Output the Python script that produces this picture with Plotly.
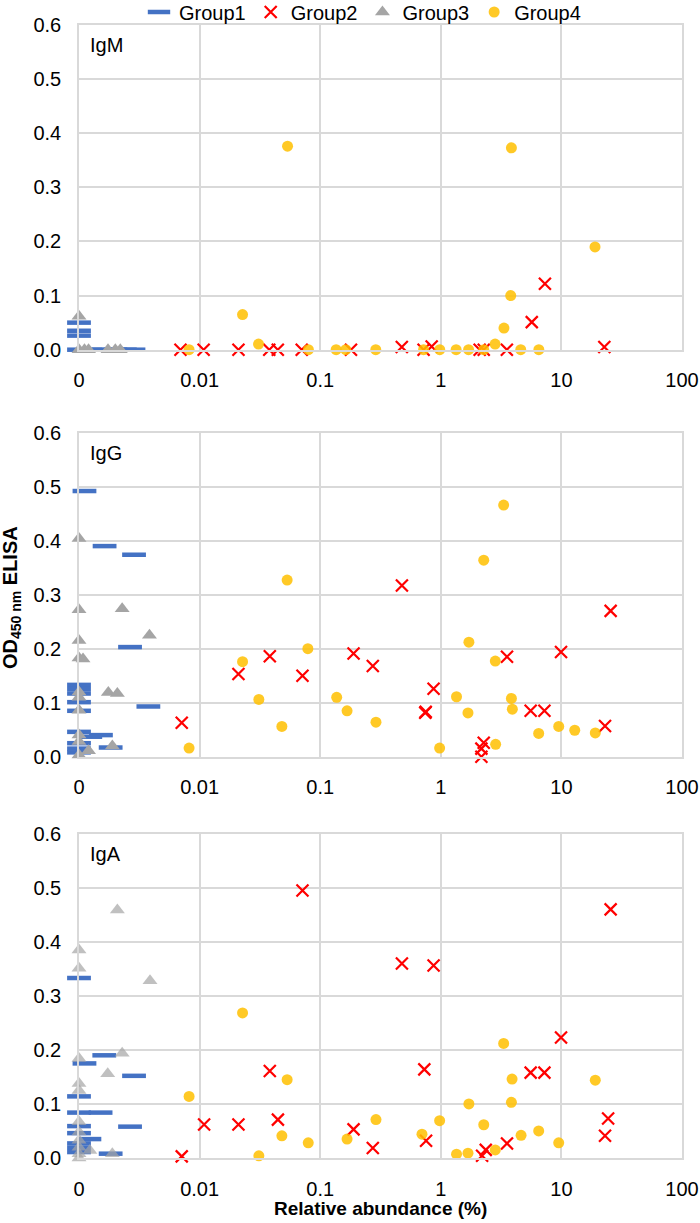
import plotly.graph_objects as go

# ---------------- data ----------------
panels = ["IgM", "IgG", "IgA"]

# Group1 (blue dash)
g1_igm_x = [0.001, 0.001, 0.001, 0.001, 0.00125, 0.0016, 0.002, 0.0024, 0.00283]
g1_igm_y = [0.05, 0.035, 0.026, 0.0, 0.0, 0.0, 0.0, 0.0, 0.0]
g1_igg_x = [0.00111, 0.00163, 0.00286, 0.00265, 0.001, 0.001, 0.001, 0.001, 0.001,
            0.00376, 0.001, 0.00152, 0.00124, 0.001, 0.001, 0.001, 0.00183]
g1_igg_y = [0.492, 0.39, 0.374, 0.203, 0.133, 0.125, 0.117, 0.101, 0.085,
            0.093, 0.046, 0.04, 0.037, 0.025, 0.015, 0.008, 0.017]
g1_iga_x = [0.001, 0.00162, 0.00111, 0.00286, 0.001, 0.001, 0.00151, 0.001, 0.00265,
            0.001, 0.00122, 0.001, 0.001, 0.001, 0.00183]
g1_iga_y = [0.333, 0.19, 0.175, 0.152, 0.114, 0.084, 0.084, 0.059, 0.058,
            0.046, 0.035, 0.027, 0.019, 0.011, 0.008]

# Group2 (red x)
g2_igm_x = [0.00694, 0.0108, 0.021, 0.0378, 0.0445, 0.0703, 0.18, 0.475, 0.72, 0.84,
            2.1, 2.27, 3.53, 22.7, 7.3, 5.68]
g2_igm_y = [0.0, 0.0, 0.0, 0.0, 0.0, 0.0, 0.0, 0.005, 0.0, 0.006,
            0.0, 0.0, 0.0, 0.005, 0.122, 0.051]
g2_igg_x = [0.00711, 0.021, 0.0382, 0.0713, 0.189, 0.273, 0.476, 0.743, 0.75, 0.871,
            2.17, 2.17, 2.27, 3.54, 5.56, 7.23, 9.93, 23.0, 25.6]
g2_igg_y = [0.063, 0.153, 0.186, 0.15, 0.191, 0.168, 0.317, 0.0815, 0.083, 0.126,
            0.015, 0.0, 0.026, 0.185, 0.085, 0.085, 0.194, 0.057, 0.27]
g2_iga_x = [0.00711, 0.0109, 0.021, 0.0382, 0.0446, 0.0713, 0.189, 0.273, 0.476, 0.73,
            0.755, 0.871, 2.2, 2.36, 3.54, 5.56, 7.23, 9.93, 23.0, 24.4, 25.6]
g2_iga_y = [0.003, 0.062, 0.062, 0.161, 0.071, 0.495, 0.053, 0.0185, 0.36, 0.164,
            0.032, 0.356, 0.004, 0.015, 0.027, 0.158, 0.158, 0.223, 0.041, 0.073, 0.46]

# Group3 (grey triangle)
g3_igm_x = [0.001, 0.001, 0.00111, 0.0012, 0.00174, 0.002, 0.0022]
g3_igm_y = [0.062, 0.0, 0.0, 0.0, 0.0, 0.0, 0.0]
g3_igg_x = [0.001, 0.001, 0.00228, 0.00384, 0.001, 0.001, 0.00108, 0.001, 0.001,
            0.00175, 0.00208, 0.001, 0.001, 0.001, 0.0012, 0.00189, 0.001]
g3_igg_y = [0.404, 0.272, 0.274, 0.225, 0.215, 0.183, 0.181, 0.12, 0.11,
            0.119, 0.117, 0.086, 0.04, 0.028, 0.011, 0.02, 0.003]
g3_iga_x = [0.00208, 0.001, 0.001, 0.00388, 0.001, 0.00228, 0.00173, 0.001, 0.001,
            0.001, 0.001, 0.001, 0.001, 0.001, 0.00123, 0.00189, 0.001]
g3_iga_y = [0.459, 0.385, 0.351, 0.328, 0.184, 0.194, 0.156, 0.138, 0.125,
            0.067, 0.048, 0.033, 0.02, 0.008, 0.014, 0.008, 0.0]

# Group4 (gold circle)
g4_igm_x = [0.00818, 0.0227, 0.0308, 0.0536, 0.0798, 0.1356, 0.163, 0.289, 0.72, 0.98,
            1.34, 1.7, 2.27, 2.82, 3.34, 3.8, 3.85, 4.6, 6.5, 19.0]
g4_igm_y = [0.0, 0.065, 0.0105, 0.376, 0.0, 0.0, 0.0, 0.0, 0.0, 0.0,
            0.0, 0.0, 0.0, 0.0105, 0.04, 0.1, 0.373, 0.0, 0.0, 0.19]
g4_igg_x = [0.00818, 0.0227, 0.031, 0.0481, 0.0532, 0.079, 0.137, 0.167, 0.29, 0.978,
            1.35, 1.68, 1.71, 2.27, 2.83, 2.85, 3.32, 3.85, 3.92, 6.48, 9.5, 12.9, 19.1]
g4_igg_y = [0.016, 0.176, 0.106, 0.056, 0.327, 0.2, 0.11, 0.085, 0.064, 0.016,
            0.111, 0.081, 0.212, 0.364, 0.177, 0.023, 0.466, 0.108, 0.088, 0.043, 0.056, 0.049, 0.044]
g4_iga_x = [0.00818, 0.0227, 0.031, 0.0481, 0.0532, 0.0796, 0.167, 0.29, 0.698, 0.978,
            1.35, 1.68, 1.71, 2.27, 2.83, 3.32, 3.85, 3.9, 4.63, 6.48, 9.5, 19.1]
g4_iga_y = [0.114, 0.2685, 0.004, 0.041, 0.145, 0.028, 0.035, 0.071, 0.044, 0.069,
            0.007, 0.009, 0.1, 0.0615, 0.015, 0.212, 0.103, 0.146, 0.042, 0.05, 0.028, 0.144]

x_tickvals = [0.001, 0.01, 0.1, 1, 10, 100]
x_ticktext = ["0", "0.01", "0.1", "1", "10", "100"]
y_tickvals = [0.0, 0.1, 0.2, 0.3, 0.4, 0.5, 0.6]

# ---------------- styling ----------------
BLUE = "#4472C4"
RED = "#FF0000"
GREY = "#A5A5A5"
GOLD = "#FFC000"
GRID = "#D9D9D9"
FONT = "Liberation Sans, Arial, sans-serif"

data = {
    "IgM": [(g1_igm_x, g1_igm_y), (g2_igm_x, g2_igm_y), (g3_igm_x, g3_igm_y), (g4_igm_x, g4_igm_y)],
    "IgG": [(g1_igg_x, g1_igg_y), (g2_igg_x, g2_igg_y), (g3_igg_x, g3_igg_y), (g4_igg_x, g4_igg_y)],
    "IgA": [(g1_iga_x, g1_iga_y), (g2_iga_x, g2_iga_y), (g3_iga_x, g3_iga_y), (g4_iga_x, g4_iga_y)],
}

group_names = ["Group1", "Group2", "Group3", "Group4"]
marker_styles = [
    dict(symbol="line-ew", size=17, color=BLUE, line=dict(color=BLUE, width=4.5)),
    dict(symbol="x-thin", size=12, color=RED, line=dict(color=RED, width=2.2)),
    dict(symbol="triangle-up", size=13, color=GREY, line=dict(width=0)),
    dict(symbol="circle", size=11, color=GOLD, opacity=0.85, line=dict(width=0)),
]

fig = go.Figure()

fig_h = 1223
t_m, b_m = 25, 65
ph = fig_h - t_m - b_m
def py(p):
    return (fig_h - b_m - p) / ph

domains = [
    [py(349.7), 1.0],
    [py(756.7), py(432.7)],
    [0.0, py(833.7)],
]

for i, name in enumerate(panels):
    sfx = "" if i == 0 else str(i + 1)
    for j, (gx, gy) in enumerate(data[name]):
        ms = dict(marker_styles[j])
        if name == "IgA" and j == 2:
            ms["opacity"] = 0.7
        fig.add_trace(go.Scatter(
            x=gx, y=gy, mode="markers", name=group_names[j],
            marker=ms, cliponaxis=False,
            showlegend=(i == 0),
            xaxis="x" + sfx, yaxis="y" + sfx,
        ))
    xa = dict(
        type="log", range=[-3, 2], tickvals=x_tickvals, ticktext=x_ticktext,
        showgrid=True, gridcolor=GRID, gridwidth=1.5,
        showline=True, linecolor=GRID, linewidth=1.5, mirror=True,
        zeroline=False, ticks="", ticklabelstandoff=12,
        tickfont=dict(family=FONT, size=20, color="#000000"),
        anchor="y" + sfx, domain=[0, 1], automargin=False,
    )
    ya = dict(
        range=[0, 0.6], tickvals=y_tickvals, tickformat=".1f",
        showgrid=True, gridcolor=GRID, gridwidth=1.5,
        showline=True, linecolor=GRID, linewidth=1.5, mirror=True,
        zeroline=False, ticks="", ticklabelstandoff=12,
        tickfont=dict(family=FONT, size=20, color="#000000"),
        anchor="x" + sfx, domain=domains[i], automargin=False,
    )
    fig.update_layout({"xaxis" + sfx: xa, "yaxis" + sfx: ya})
    fig.add_annotation(
        text=name, xref="x" + sfx + " domain", yref="y" + sfx + " domain",
        x=0.015, y=1 - 20 / 324, xanchor="left", yanchor="middle",
        showarrow=False, font=dict(family=FONT, size=20, color="#000000"),
    )

fig.add_annotation(
    text="<b>OD<sub>450 nm</sub> ELISA</b>", xref="paper", yref="paper",
    x=(11 - 79) / 603, y=py(598), xanchor="center", yanchor="middle",
    textangle=-90, showarrow=False,
    font=dict(family=FONT, size=20, color="#000000"),
)
fig.add_annotation(
    text="<b>Relative abundance (%)</b>", xref="paper", yref="paper",
    x=0.5, y=py(1208), xanchor="center", yanchor="middle",
    showarrow=False, font=dict(family=FONT, size=19, color="#000000"),
)

fig.update_layout(
    width=700, height=1223,
    margin=dict(l=79, r=18, t=t_m, b=b_m, autoexpand=False),
    paper_bgcolor="white", plot_bgcolor="white",
    font=dict(family=FONT, size=20, color="#000000"),
    legend=dict(
        orientation="h", x=(139 - 79) / 603, y=py(12),
        xanchor="left", yanchor="middle",
        font=dict(family=FONT, size=20, color="#000000"),
        bgcolor="rgba(0,0,0,0)", itemclick=False,
    ),
    showlegend=True,
)

fig.write_html(
    "out.html",
    config={"displayModeBar": False},
    post_script="document.body.style.margin='0';document.body.style.padding='0';"
                "document.body.style.overflow='hidden';",
)
